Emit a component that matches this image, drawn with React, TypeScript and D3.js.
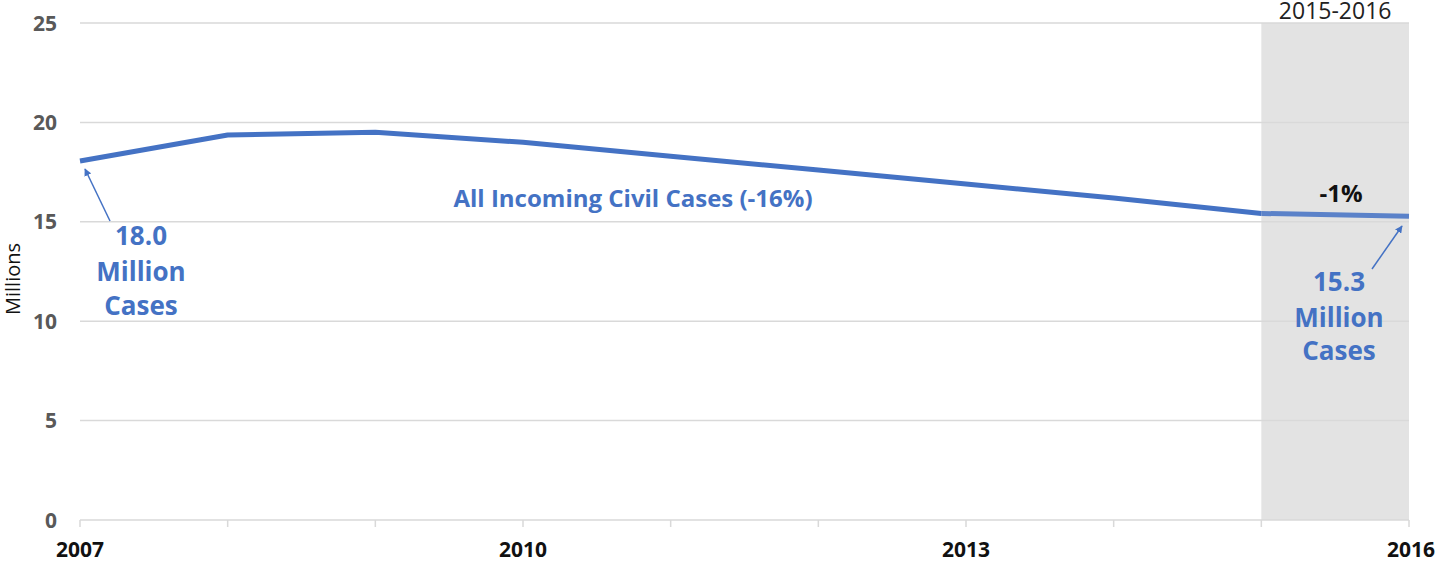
import React from "react";
import * as d3 from "d3";

const years = [2007, 2008, 2009, 2010, 2011, 2012, 2013, 2014, 2015, 2016];
const cases = [18.06, 19.37, 19.5, 19.0, 18.3, 17.6, 16.9, 16.2, 15.42, 15.28];
const yTicks = [0, 5, 10, 15, 20, 25];
const xLabelYears = [2007, 2010, 2013, 2016];
const highlight = [2015, 2016];

const W = 1441;
const H = 563;
const BLUE = "#4472C4";
const GRID = "#d9d9d9";
const FONT = "'Open Sans', sans-serif";

export default function App() {
  const x = d3.scaleLinear().domain([2007, 2016]).range([80, 1409]);
  const y = d3.scaleLinear().domain([0, 25]).range([520, 23]);
  const line = d3.line<number>().x((_, i) => x(years[i])).y((d) => y(d));
  const mainPts = cases.slice(0, 9);
  const lastPts = cases.slice(8);
  const lastLine = d3.line<number>().x((_, i) => x(years[8 + i])).y((d) => y(d));

  return (
    <svg width={W} height={H} style={{ position: "absolute", left: 0, top: 0 }} fontFamily={FONT}>
      <defs>
        <marker id="ah" viewBox="0 0 10 10" refX="9" refY="5" markerWidth="5" markerHeight="5" orient="auto-start-reverse">
          <path d="M0,0 L10,5 L0,10 z" fill={BLUE} />
        </marker>
      </defs>
      <rect x={0} y={0} width={W} height={H} fill="#fff" />
      <rect x={x(highlight[0])} y={y(25)} width={x(highlight[1]) - x(highlight[0])} height={y(0) - y(25)} fill="#e3e3e3" />
      {yTicks.map((t) => (
        <line key={t} x1={x(2007)} x2={x(2016)} y1={y(t)} y2={y(t)} stroke={GRID} strokeWidth={1.5} />
      ))}
      {years.map((yr) => (
        <line key={yr} x1={x(yr)} x2={x(yr)} y1={y(0)} y2={y(0) + 7} stroke={GRID} strokeWidth={1.5} />
      ))}
      {yTicks.map((t) => (
        <text key={t} x={57} y={y(t)} dy="0.36em" textAnchor="end" fontSize={21} fontWeight={700} fill="#595959">
          {t}
        </text>
      ))}
      <text transform={`translate(20,279) rotate(-90)`} textAnchor="middle" fontSize={20} fill="#111">
        Millions
      </text>
      {xLabelYears.map((yr) => (
        <text key={yr} x={yr === 2016 ? x(yr) + 2 : x(yr)} y={557} textAnchor="middle" fontSize={21} fontWeight={700} fill="#111">
          {yr}
        </text>
      ))}
      <text x={(x(2015) + x(2016)) / 2} y={19} textAnchor="middle" fontSize={23} fill="#222">
        2015-2016
      </text>
      <path d={line(mainPts) || ""} fill="none" stroke={BLUE} strokeWidth={5} strokeLinejoin="round" />
      <path d={lastLine(lastPts) || ""} fill="none" stroke="#5b82c9" strokeWidth={5} />
      <text x={633} y={207} textAnchor="middle" fontSize={24} fontWeight={700} fill={BLUE}>
        All Incoming Civil Cases (-16%)
      </text>
      <text x={1341} y={202} textAnchor="middle" fontSize={24} fontWeight={700} fill="#111">
        -1%
      </text>
      <g fontSize={26} fontWeight={700} fill={BLUE} textAnchor="middle">
        <text x={141} y={245}>18.0</text>
        <text x={141} y={281}>Million</text>
        <text x={141} y={315}>Cases</text>
        <text x={1339} y={291}>15.3</text>
        <text x={1339} y={327}>Million</text>
        <text x={1339} y={360}>Cases</text>
      </g>
      <line x1={110} y1={221} x2={85} y2={169} stroke={BLUE} strokeWidth={1.5} markerEnd="url(#ah)" />
      <line x1={1372} y1={269} x2={1402} y2={226} stroke={BLUE} strokeWidth={1.5} markerEnd="url(#ah)" />
    </svg>
  );
}
